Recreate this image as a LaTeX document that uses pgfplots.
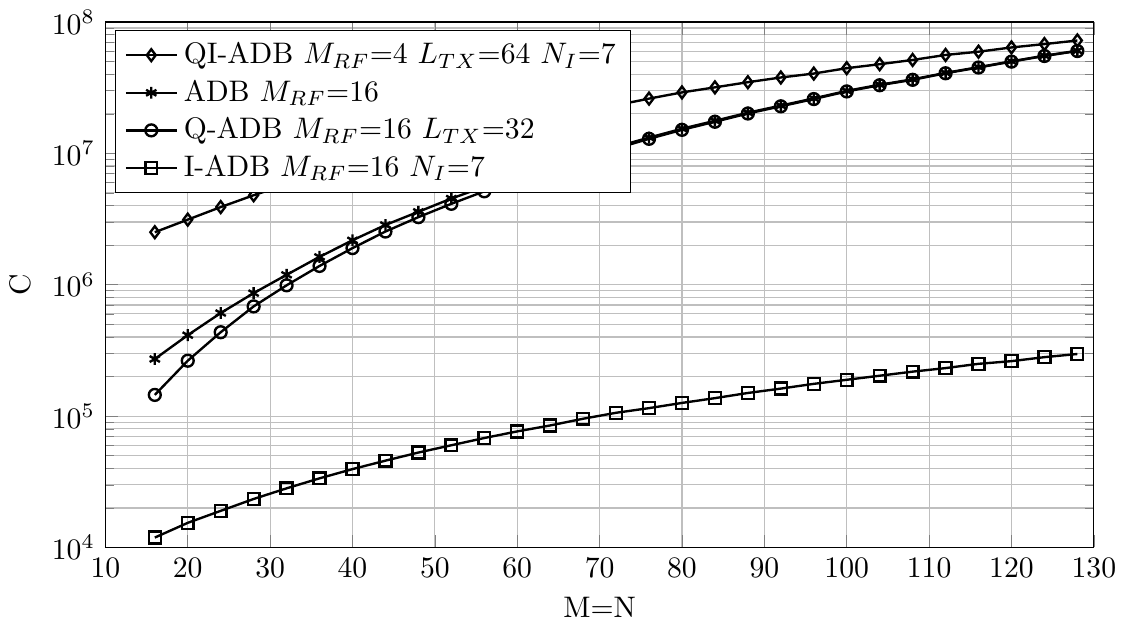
\documentclass[border=0pt]{standalone}
\usepackage{pgfplots}
\pgfplotsset{compat=1.18}

\begin{document}
\begin{tikzpicture}
\begin{semilogyaxis}[
    scale only axis,
    width=11.7cm, height=6.22cm,
    xmin=10, xmax=130,
    ymin=1e4, ymax=1e8,
    xtick={10,20,...,130},
    xlabel={M=N},
    ylabel={C},
    grid=both,
    legend cell align=left,
    legend style={at={(0.01,0.985)}, anchor=north west},
  ]
  % QI-ADB
  \addplot[black, thick, mark=diamond, mark options={solid, fill=white}] coordinates {
    (16,2.51e6) (20,3.13e6) (24,3.90e6) (28,4.80e6) (32,5.81e6)
    (36,6.92e6) (40,8.15e6) (44,9.48e6) (48,1.094e7) (52,1.253e7)
    (56,1.429e7) (60,1.622e7) (64,1.832e7) (68,2.065e7) (72,2.323e7)
    (76,2.61e7) (80,2.91e7) (84,3.18e7) (88,3.48e7) (92,3.78e7)
    (96,4.05e7) (100,4.45e7) (104,4.77e7) (108,5.14e7) (112,5.61e7)
    (116,5.94e7) (120,6.40e7) (124,6.79e7) (128,7.23e7)
  };
  \addlegendentry{QI-ADB $M_{RF}$=4 $L_{TX}$=64 $N_I$=7}
  % ADB
  \addplot[black, thick, mark=asterisk, mark options={solid}] coordinates {
    (16,2.72e5) (20,4.13e5) (24,6.09e5) (28,8.63e5) (32,1.19e6)
    (36,1.63e6) (40,2.18e6) (44,2.85e6) (48,3.59e6) (52,4.53e6)
    (56,5.57e6) (60,6.73e6) (64,8.04e6) (68,9.53e6) (72,1.122e7)
    (76,1.318e7) (80,1.54e7) (84,1.77e7) (88,2.04e7) (92,2.31e7)
    (96,2.62e7) (100,2.99e7) (104,3.33e7) (108,3.66e7) (112,4.10e7)
    (116,4.53e7) (120,5.02e7) (124,5.54e7) (128,6.04e7)
  };
  \addlegendentry{ADB $M_{RF}$=16}
  % Q-ADB
  \addplot[black, thick, mark=o, mark options={solid, fill=white}] coordinates {
    (16,1.45e5) (20,2.64e5) (24,4.35e5) (28,6.84e5) (32,9.9e5)
    (36,1.39e6) (40,1.90e6) (44,2.54e6) (48,3.27e6) (52,4.13e6)
    (56,5.14e6) (60,6.30e6) (64,7.62e6) (68,9.14e6) (72,1.089e7)
    (76,1.29e7) (80,1.51e7) (84,1.74e7) (88,2.01e7) (92,2.28e7)
    (96,2.59e7) (100,2.96e7) (104,3.30e7) (108,3.63e7) (112,4.07e7)
    (116,4.50e7) (120,4.99e7) (124,5.51e7) (128,6.01e7)
  };
  \addlegendentry{Q-ADB $M_{RF}$=16 $L_{TX}$=32}
  % I-ADB
  \addplot[black, thick, mark=square, mark options={solid, fill=white}] coordinates {
    (16,1.19e4) (20,1.54e4) (24,1.90e4) (28,2.34e4) (32,2.82e4)
    (36,3.36e4) (40,3.95e4) (44,4.58e4) (48,5.28e4) (52,6.0e4)
    (56,6.81e4) (60,7.65e4) (64,8.49e4) (68,9.55e4) (72,1.06e5)
    (76,1.15e5) (80,1.26e5) (84,1.37e5) (88,1.50e5) (92,1.62e5)
    (96,1.76e5) (100,1.89e5) (104,2.03e5) (108,2.18e5) (112,2.32e5)
    (116,2.50e5) (120,2.62e5) (124,2.81e5) (128,2.97e5)
  };
  \addlegendentry{I-ADB $M_{RF}$=16 $N_I$=7}
\end{semilogyaxis}
\end{tikzpicture}
\end{document}
